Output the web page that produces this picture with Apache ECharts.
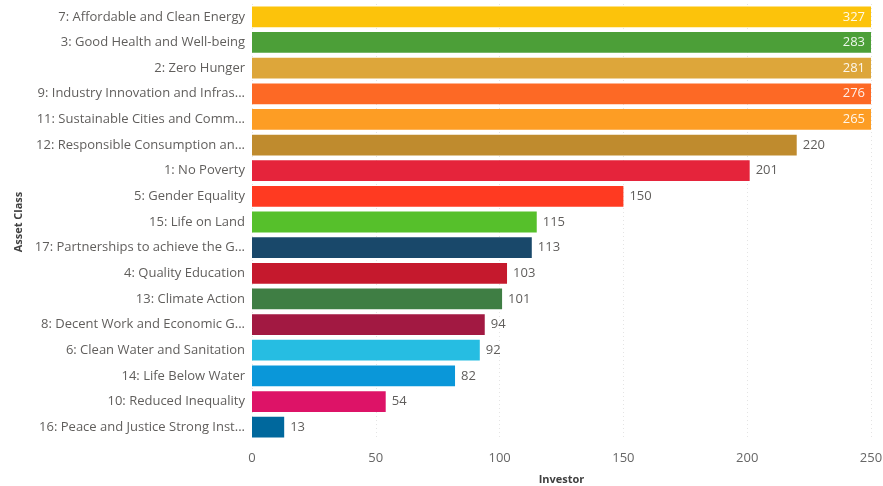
<!DOCTYPE html>
<html>
<head>
<meta charset="utf-8">
<script src="https://cdn.jsdelivr.net/npm/echarts@6/dist/echarts.min.js"></script>
<style>
  html, body { margin: 0; padding: 0; background: #fff; }
  #chart { width: 883px; height: 486px; }
</style>
</head>
<body>
<div id="chart"></div>
<script>
// Investor counts per SDG goal (category labels as displayed, top to bottom)
const goals = [
  "7: Affordable and Clean Energy",
  "3: Good Health and Well-being",
  "2: Zero Hunger",
  "9: Industry Innovation and Infras...",
  "11: Sustainable Cities and Comm...",
  "12: Responsible Consumption an...",
  "1: No Poverty",
  "5: Gender Equality",
  "15: Life on Land",
  "17: Partnerships to achieve the G...",
  "4: Quality Education",
  "13: Climate Action",
  "8: Decent Work and Economic G...",
  "6: Clean Water and Sanitation",
  "14: Life Below Water",
  "10: Reduced Inequality",
  "16: Peace and Justice Strong Inst..."
];
const investors = [327, 283, 281, 276, 265, 220, 201, 150, 115, 113, 103, 101, 94, 92, 82, 54, 13];
const goalColors = [
  "#FCC30B", "#4C9F38", "#DDA63A", "#FD6925", "#FD9D24", "#BF8B2E",
  "#E5243B", "#FF3A21", "#56C02B", "#19486A", "#C5192D", "#3F7E44",
  "#A21942", "#26BDE2", "#0A97D9", "#DD1367", "#00689D"
];
const xTicks = { min: 0, max: 250, interval: 50 };

const FONT = "'Open Sans', 'Noto Sans', sans-serif";

// Bars that run past the axis end are clipped and carry their value inside.
const barData = investors.map((v, i) => {
  const over = v > xTicks.max;
  return {
    value: v,
    itemStyle: { color: goalColors[i] },
    label: over
      ? { position: "insideRight", color: "rgba(255,255,255,0.9)", distance: 6 }
      : { position: "right", color: "#605E5C", distance: 6 }
  };
});

const chart = echarts.init(document.getElementById("chart"), null, { renderer: "canvas" });
chart.setOption({
  animation: false,
  backgroundColor: "#ffffff",
  grid: { left: 252, right: 12, top: 4, bottom: 46, containLabel: false, outerBoundsMode: "none" },
  xAxis: {
    type: "value",
    min: xTicks.min,
    max: xTicks.max,
    interval: xTicks.interval,
    name: "Investor",
    nameLocation: "middle",
    nameGap: 34,
    nameTextStyle: { fontFamily: FONT, fontSize: 11, fontWeight: "bold", color: "#404040" },
    axisLine: { show: false },
    axisTick: { show: false },
    axisLabel: { fontFamily: FONT, fontSize: 13, color: "#666666", margin: 12 },
    splitLine: { show: true, lineStyle: { color: "#e4e4e4", type: [1, 3], width: 1 } }
  },
  yAxis: {
    type: "category",
    data: goals,
    inverse: true,
    name: "Asset Class",
    nameLocation: "middle",
    nameGap: 228,
    nameRotate: 90,
    nameTextStyle: { fontFamily: FONT, fontSize: 11, fontWeight: "bold", color: "#404040" },
    axisLine: { show: false },
    axisTick: { show: false },
    axisLabel: { fontFamily: FONT, fontSize: 13, color: "#605E5C", margin: 7 },
    splitLine: { show: false }
  },
  series: [{
    type: "bar",
    data: barData,
    barCategoryGap: "19%",
    clip: true,
    label: { show: true, fontFamily: FONT, fontSize: 13 }
  }]
});
</script>
</body>
</html>
